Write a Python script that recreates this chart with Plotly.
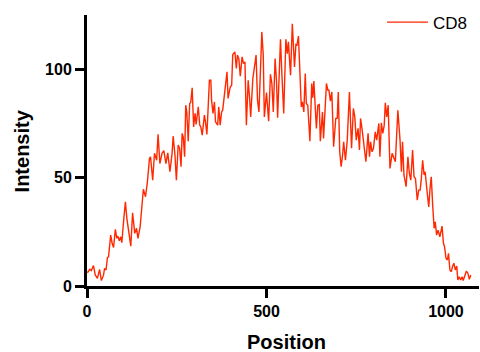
import plotly.graph_objects as go

position = [1, 8, 12, 18, 23, 29, 35, 40, 46, 49, 53, 57, 60, 66, 70, 74, 79, 83, 86, 90,
            94, 97, 103, 107, 111, 116, 122, 127, 133, 138, 142, 148, 151, 157, 163, 168, 174, 177, 183, 188,
            194, 198, 203, 209, 214, 220, 225, 231, 237, 240, 245, 249, 254, 258, 262, 265, 268, 272, 275, 278,
            282, 286, 289, 293, 297, 301, 304, 310, 314, 317, 321, 327, 330, 334, 341, 345, 347, 351, 355, 358,
            364, 367, 371, 375, 378, 384, 390, 393, 399, 403, 406, 412, 416, 419, 423, 427, 432, 436, 440, 444,
            449, 453, 456, 462, 467, 471, 475, 479, 487, 491, 494, 500, 506, 511, 515, 519, 524, 528, 531, 539,
            543, 548, 554, 558, 561, 567, 572, 578, 582, 585, 589, 593, 597, 600, 604, 608, 611, 615, 621, 626,
            629, 632, 636, 639, 643, 647, 650, 656, 659, 663, 667, 671, 674, 678, 682, 687, 693, 697, 700, 704,
            708, 712, 715, 720, 725, 731, 737, 742, 746, 750, 755, 759, 762, 766, 772, 777, 783, 787, 790, 794,
            798, 803, 807, 813, 816, 820, 824, 828, 831, 835, 839, 844, 850, 853, 859, 863, 866, 872, 876, 879,
            883, 889, 894, 898, 902, 907, 911, 915, 920, 924, 928, 931, 935, 939, 942, 946, 952, 956, 959, 963,
            967, 970, 974, 978, 983, 989, 993, 996, 1000, 1004, 1007, 1011, 1015, 1018, 1022, 1026, 1030, 1033, 1037, 1041,
            1045, 1048, 1052, 1057, 1061, 1065, 1069]

intensity_cd8 = [6.1, 7.7, 7.1, 9.4, 5.1, 3.5, 7.7, 2.5, 5.0, 8.1, 7.4, 13.2, 13.5, 23.5, 19.7, 17.8, 26.1, 22.0, 23.0, 20.9,
                 22.7, 20.0, 31.9, 38.8, 31.2, 25.8, 18.4, 33.8, 24.3, 26.6, 22.0, 27.3, 32.3, 44.6, 41.2, 47.6, 58.8, 59.6, 48.8, 61.2,
                 58.0, 70.0, 56.5, 61.2, 62.4, 56.5, 61.4, 52.7, 61.2, 69.1, 60.4, 48.8, 65.0, 63.5, 55.0, 70.4, 68.8, 59.6, 83.4, 80.3,
                 66.8, 84.2, 84.7, 91.4, 73.4, 79.6, 74.5, 82.6, 74.2, 73.4, 69.6, 78.8, 75.7, 69.9, 94.9, 94.9, 85.7, 79.6, 84.9, 75.7,
                 74.2, 82.6, 74.2, 80.3, 81.1, 91.8, 98.8, 86.5, 91.8, 92.6, 106.8, 108.0, 100.3, 106.5, 104.9, 96.8, 105.7, 102.6, 103.4, 74.2,
                 94.9, 86.5, 78.0, 95.7, 101.8, 106.5, 85.7, 80.3, 117.2, 106.5, 78.0, 89.2, 76.0, 97.6, 93.4, 80.3, 104.9, 94.2, 77.6, 113.8,
                 97.2, 79.6, 113.8, 107.2, 112.6, 97.2, 121.0, 101.0, 111.4, 111.1, 115.3, 98.8, 82.6, 84.9, 80.3, 98.0, 84.2, 83.4, 66.8, 93.4,
                 86.8, 94.5, 80.3, 72.7, 83.4, 83.7, 66.8, 80.3, 68.1, 78.8, 93.4, 90.3, 90.3, 85.3, 89.5, 64.2, 77.3, 77.3, 89.5, 61.9,
                 55.0, 60.4, 66.5, 58.0, 67.3, 89.5, 63.5, 81.9, 78.0, 67.3, 72.7, 62.7, 77.3, 72.7, 63.5, 57.3, 70.4, 59.6, 66.5, 61.9,
                 63.5, 71.1, 67.3, 75.0, 59.6, 75.3, 70.4, 74.2, 84.5, 78.0, 83.4, 54.2, 61.2, 59.6, 57.3, 71.1, 81.1, 67.3, 52.7, 66.5,
                 51.2, 45.8, 59.6, 51.9, 48.8, 62.7, 50.4, 49.6, 39.6, 44.2, 44.2, 48.8, 58.0, 51.2, 52.7, 45.8, 36.5, 45.8, 50.4, 37.3,
                 26.6, 29.6, 23.5, 25.8, 22.7, 27.6, 19.7, 18.1, 12.8, 12.0, 15.1, 7.4, 6.6, 8.9, 10.5, 7.4, 9.2, 2.8, 4.3, 2.8,
                 4.3, 2.5, 4.3, 6.9, 5.9, 3.1, 5.1]

x_ticks = [0, 500, 1000]
y_ticks = [0, 50, 100]

FONT = "Liberation Sans, Arial, sans-serif"

fig = go.Figure()
fig.add_trace(go.Scatter(
    x=position, y=intensity_cd8, mode="lines", name="CD8",
    line=dict(color="rgb(255,40,0)", width=1.4),
))

fig.update_layout(
    width=480, height=352,
    margin=dict(l=87, r=1, t=15, b=66, autoexpand=False),
    paper_bgcolor="white", plot_bgcolor="white",
    showlegend=True,
    legend=dict(x=0.7526, y=0.972, xanchor="left", yanchor="middle", itemwidth=41,
                font=dict(family=FONT, size=17, color="black"),
                bgcolor="rgba(0,0,0,0)"),
    annotations=[
        dict(text="Position", x=0.51, y=-0.207, xref="paper", yref="paper",
             xanchor="center", yanchor="middle", showarrow=False,
             font=dict(family=FONT, size=20, color="black", weight="bold")),
        dict(text="Intensity", x=-0.166, y=0.50, xref="paper", yref="paper",
             xanchor="center", yanchor="middle", showarrow=False, textangle=-90,
             font=dict(family=FONT, size=20, color="black", weight="bold")),
    ],
)
fig.update_xaxes(
    range=[0, 1092], tickvals=x_ticks, ticks="outside", ticklen=9, tickwidth=3,
    tickcolor="black", showline=True, linewidth=3, linecolor="black",
    showgrid=False, zeroline=False, automargin=False,
    tickfont=dict(family=FONT, size=16, color="black", weight="bold"),
)
fig.update_yaxes(
    range=[0, 125], tickvals=y_ticks, ticks="outside", ticklen=9, tickwidth=3,
    tickcolor="black", showline=True, linewidth=3, linecolor="black",
    showgrid=False, zeroline=False, automargin=False,
    tickfont=dict(family=FONT, size=16, color="black", weight="bold"),
)

fig.write_html("out.html", config={"displayModeBar": False},
               post_script="document.body.style.margin='0';document.body.style.overflow='hidden';")
